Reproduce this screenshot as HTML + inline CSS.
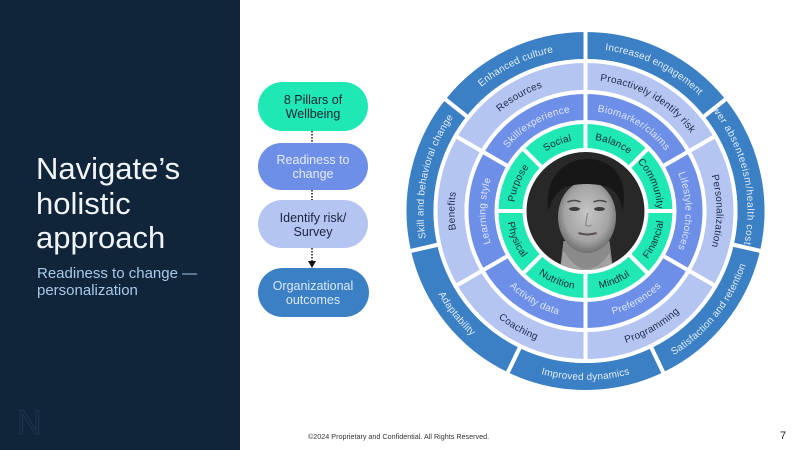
<!DOCTYPE html>
<html><head><meta charset="utf-8"><style>
html,body{margin:0;padding:0;background:#fff;}
svg{display:block;}
text{font-family:"Liberation Sans",sans-serif;}
</style></head><body>
<svg width="797" height="450" viewBox="0 0 797 450" xmlns="http://www.w3.org/2000/svg">
<defs>
<path id="sg" d="M-34.059,-82.225 A89,89 0 0 1 34.059,-82.225 L23.344,-56.357 A61,61 0 0 0 -23.344,-56.357 Z"/>
<path id="sm" d="M-59.5,-103.057 A119,119 0 0 1 59.5,-103.057 L44,-76.21 A88,88 0 0 0 -44,-76.21 Z"/>
<path id="sl" d="M-75,-129.904 A150,150 0 0 1 75,-129.904 L59.5,-103.057 A119,119 0 0 0 -59.5,-103.057 Z"/>
<path id="so" d="M-78.533,-163.075 A181,181 0 0 1 78.533,-163.075 L65.083,-135.145 A150,150 0 0 0 -65.083,-135.145 Z"/>
<path id="cwo" d="M-162,0 A162,162 0 0 1 162,0"/>
<path id="cco" d="M-169,0 A169,169 0 0 0 169,0"/>
<path id="cwl" d="M-131,0 A131,131 0 0 1 131,0"/>
<path id="ccl" d="M-138,0 A138,138 0 0 0 138,0"/>
<path id="cwm" d="M-100,0 A100,100 0 0 1 100,0"/>
<path id="ccm" d="M-107,0 A107,107 0 0 0 107,0"/>
<path id="cwg" d="M-71.5,0 A71.5,71.5 0 0 1 71.5,0"/>
<path id="ccg" d="M-78.5,0 A78.5,78.5 0 0 0 78.5,0"/>
<clipPath id="clipLA"><path transform="rotate(77.143)" d="M-76.5,-160 A181,181 0 0 1 76.5,-160 L64,-136 A150,150 0 0 0 -64,-136 Z"/></clipPath>
<clipPath id="pc"><circle r="59"/></clipPath>
<radialGradient id="fg" cx="0.5" cy="0.45" r="0.55">
<stop offset="0" stop-color="#c6c6c6"/><stop offset="0.7" stop-color="#a4a4a4"/><stop offset="1" stop-color="#6e6e6e"/>
</radialGradient>
</defs>

<!-- left panel -->
<rect x="0" y="0" width="240" height="450" fill="#10243a"/>
<text x="36" y="179" font-size="31" fill="#f2f5f8">Navigate’s</text>
<text x="36" y="214" font-size="31" fill="#f2f5f8">holistic</text>
<text x="36" y="248" font-size="31" fill="#f2f5f8">approach</text>
<text x="37" y="278" font-size="15" fill="#a9c9ea">Readiness to change —</text>
<text x="37" y="295" font-size="15" fill="#a9c9ea">personalization</text>
<text x="17" y="434" font-size="34" fill="none" stroke="#20364d" stroke-width="1">N</text>

<!-- flowchart -->
<g font-size="12.5" text-anchor="middle">
<rect x="258" y="82" width="110" height="49" rx="24.5" fill="#20e8b4"/>
<text x="313" y="104" fill="#0f2236">8 Pillars of</text>
<text x="313" y="118" fill="#0f2236">Wellbeing</text>
<rect x="258" y="143" width="110" height="47" rx="23.5" fill="#6d8fe8"/>
<text x="313" y="164" fill="#e6edfc">Readiness to</text>
<text x="313" y="178" fill="#e6edfc">change</text>
<rect x="258" y="200" width="110" height="48" rx="24" fill="#b5c5f1"/>
<text x="313" y="222" fill="#1b2340">Identify risk/</text>
<text x="313" y="236" fill="#1b2340">Survey</text>
<rect x="258" y="268" width="111" height="49" rx="24.5" fill="#3b80c4"/>
<text x="313" y="290" fill="#dde9f7">Organizational</text>
<text x="313" y="304" fill="#dde9f7">outcomes</text>
</g>
<g stroke="#111" stroke-width="1.5" stroke-dasharray="1.5 1.5">
<line x1="312" y1="131" x2="312" y2="143"/>
<line x1="312" y1="190" x2="312" y2="200"/>
<line x1="312" y1="248" x2="312" y2="262"/>
</g>
<path d="M308,261 L316,261 L312,268 Z" fill="#111"/>

<!-- wheel -->
<g transform="translate(585.5,211)">
<g stroke="#fff" stroke-width="4" stroke-linejoin="round">
<g fill="#3b80c4">
<use href="#so" transform="rotate(25.714)"/>
<use href="#so" transform="rotate(77.143)"/>
<use href="#so" transform="rotate(128.571)"/>
<use href="#so" transform="rotate(180)"/>
<use href="#so" transform="rotate(231.429)"/>
<use href="#so" transform="rotate(282.857)"/>
<use href="#so" transform="rotate(334.286)"/>
</g>
<g fill="#b5c5f1">
<use href="#sl" transform="rotate(30)"/>
<use href="#sl" transform="rotate(90)"/>
<use href="#sl" transform="rotate(150)"/>
<use href="#sl" transform="rotate(210)"/>
<use href="#sl" transform="rotate(270)"/>
<use href="#sl" transform="rotate(330)"/>
</g>
<g fill="#6d8fe8">
<use href="#sm" transform="rotate(30)"/>
<use href="#sm" transform="rotate(90)"/>
<use href="#sm" transform="rotate(150)"/>
<use href="#sm" transform="rotate(210)"/>
<use href="#sm" transform="rotate(270)"/>
<use href="#sm" transform="rotate(330)"/>
</g>
<g fill="#20e8b4">
<use href="#sg" transform="rotate(22.5)"/>
<use href="#sg" transform="rotate(67.5)"/>
<use href="#sg" transform="rotate(112.5)"/>
<use href="#sg" transform="rotate(157.5)"/>
<use href="#sg" transform="rotate(202.5)"/>
<use href="#sg" transform="rotate(247.5)"/>
<use href="#sg" transform="rotate(292.5)"/>
<use href="#sg" transform="rotate(337.5)"/>
</g>
</g>

<!-- outer texts -->
<g font-size="10" fill="#e3ecf8" text-anchor="middle" letter-spacing="0.2">
<text transform="rotate(25.714)"><textPath href="#cwo" startOffset="50%">Increased engagement</textPath></text>
<g clip-path="url(#clipLA)"><text transform="rotate(74.5)" letter-spacing="0.6"><textPath href="#cwo" startOffset="50%">Lower absenteeism/health cost</textPath></text></g>
<text transform="rotate(-51.429)"><textPath href="#cco" startOffset="50%">Satisfaction and retention</textPath></text>
<text><textPath href="#cco" startOffset="50%">Improved dynamics</textPath></text>
<text transform="rotate(51.429)"><textPath href="#cco" startOffset="50%">Adaptability</textPath></text>
<text transform="rotate(-77.143)"><textPath href="#cwo" startOffset="50%">Skill and behavioral change</textPath></text>
<text transform="rotate(-25.714)"><textPath href="#cwo" startOffset="50%">Enhanced culture</textPath></text>
</g>
<!-- lavender texts -->
<g font-size="10" fill="#1e2a4a" text-anchor="middle" letter-spacing="0.25">
<text transform="rotate(30)"><textPath href="#cwl" startOffset="50%">Proactively identify risk</textPath></text>
<text transform="rotate(90)"><textPath href="#cwl" startOffset="50%">Personalization</textPath></text>
<text transform="rotate(-30)"><textPath href="#ccl" startOffset="50%">Programming</textPath></text>
<text transform="rotate(30)"><textPath href="#ccl" startOffset="50%">Coaching</textPath></text>
<text transform="rotate(-90)"><textPath href="#cwl" startOffset="50%">Benefits</textPath></text>
<text transform="rotate(-30)"><textPath href="#cwl" startOffset="50%">Resources</textPath></text>
</g>
<!-- medium texts -->
<g font-size="10" fill="#dfe7fc" text-anchor="middle" letter-spacing="0.25">
<text transform="rotate(30)"><textPath href="#cwm" startOffset="50%">Biomarker/claims</textPath></text>
<text transform="rotate(90)"><textPath href="#cwm" startOffset="50%">Lifestyle choices</textPath></text>
<text transform="rotate(-30)"><textPath href="#ccm" startOffset="50%">Preferences</textPath></text>
<text transform="rotate(30)"><textPath href="#ccm" startOffset="50%">Activity data</textPath></text>
<text transform="rotate(-90)"><textPath href="#cwm" startOffset="50%">Learning style</textPath></text>
<text transform="rotate(-30)"><textPath href="#cwm" startOffset="50%">Skill/experience</textPath></text>
</g>
<!-- green texts -->
<g font-size="10" fill="#0d2a33" text-anchor="middle" letter-spacing="0.2">
<text transform="rotate(22.5)"><textPath href="#cwg" startOffset="50%">Balance</textPath></text>
<text transform="rotate(67.5)"><textPath href="#cwg" startOffset="50%">Community</textPath></text>
<text transform="rotate(-67.5)"><textPath href="#ccg" startOffset="50%">Financial</textPath></text>
<text transform="rotate(-22.5)"><textPath href="#ccg" startOffset="50%">Mindful</textPath></text>
<text transform="rotate(22.5)"><textPath href="#ccg" startOffset="50%">Nutrition</textPath></text>
<text transform="rotate(67.5)"><textPath href="#ccg" startOffset="50%">Physical</textPath></text>
<text transform="rotate(-67.5)"><textPath href="#cwg" startOffset="50%">Purpose</textPath></text>
<text transform="rotate(-22.5)"><textPath href="#cwg" startOffset="50%">Social</textPath></text>
</g>

<!-- photo -->
<circle r="59" fill="#282828"/>
<g clip-path="url(#pc)">
<path d="M-22,30 L24,30 L28,62 L-26,62 Z" fill="#8a8a8a"/>
<path d="M-22,40 Q-10,58 0,58 Q14,58 24,42 L28,62 L-26,62 Z" fill="#a2a2a2"/>
<ellipse cx="1.5" cy="6" rx="29" ry="36" fill="url(#fg)"/>
<path d="M-37,0 C-42,-32 -22,-52 2,-52 C26,-52 44,-34 37,0 C35,-12 31,-20 22,-24 C10,-28 -8,-28 -20,-24 C-30,-19 -34,-10 -37,0 Z" fill="#171717"/>
<ellipse cx="-11" cy="-2" rx="5.5" ry="2" fill="#3c3c3c"/>
<ellipse cx="14" cy="-2" rx="5.5" ry="2" fill="#3c3c3c"/>
<path d="M-18,-9 Q-11,-12 -5,-9" stroke="#4a4a4a" stroke-width="1.5" fill="none"/>
<path d="M8,-9 Q14,-12 21,-9" stroke="#4a4a4a" stroke-width="1.5" fill="none"/>
<path d="M2,2 L0,14 Q3,16 6,14" stroke="#8a8a8a" stroke-width="1.2" fill="none"/>
<path d="M-7,22 Q2,25 11,22" stroke="#5a5050" stroke-width="2" fill="none"/>
</g>
</g>

<!-- footer -->
<text x="308" y="439" font-size="7.2" fill="#333">©2024 Proprietary and Confidential. All Rights Reserved.</text>
<text x="780" y="439" font-size="11" fill="#222">7</text>
</svg>
</body></html>
